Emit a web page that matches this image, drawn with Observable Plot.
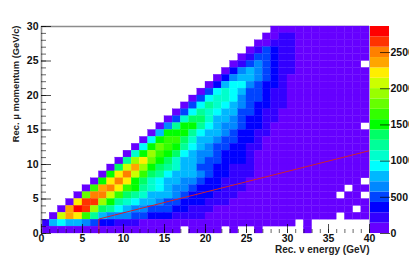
<!DOCTYPE html>
<html>
<head>
<meta charset="utf-8">
<script src="https://cdn.jsdelivr.net/npm/d3@7"></script>
<script src="https://cdn.jsdelivr.net/npm/@observablehq/plot@0.6"></script>
<style>
html,body{margin:0;padding:0;background:#fff;overflow:hidden}
#chart{position:relative;width:409px;height:259px;overflow:hidden}
#chart svg{position:absolute;left:0;top:0;display:block}
</style>
</head>
<body>
<div id="chart"></div>
<script>
const _ = null;
// Colour level (0-19) of every 1 GeV x 1 GeV/c bin, top row (29-30) first; null = empty bin
const levelRows = [
[_,_,_,_,_,_,_,_,_,_,_,_,_,_,_,_,_,_,_,_,_,_,_,_,_,_,_,_,0,0,0,0,0,0,0,0,0,0,0,0],
[_,_,_,_,_,_,_,_,_,_,_,_,_,_,_,_,_,_,_,_,_,_,_,_,_,_,_,0,0,1,1,0,0,0,0,0,0,0,0,0],
[_,_,_,_,_,_,_,_,_,_,_,_,_,_,_,_,_,_,_,_,_,_,_,_,_,_,0,0,1,1,1,0,0,0,0,0,0,0,0,0],
[_,_,_,_,_,_,_,_,_,_,_,_,_,_,_,_,_,_,_,_,_,_,_,_,_,0,1,3,2,1,1,0,0,0,0,0,0,0,0,0],
[_,_,_,_,_,_,_,_,_,_,_,_,_,_,_,_,_,_,_,_,_,_,_,_,0,1,3,3,2,1,1,0,0,0,0,0,0,0,0,0],
[_,_,_,_,_,_,_,_,_,_,_,_,_,_,_,_,_,_,_,_,_,_,_,0,1,3,4,3,2,1,1,0,0,0,0,0,0,0,0,_],
[_,_,_,_,_,_,_,_,_,_,_,_,_,_,_,_,_,_,_,_,_,_,0,2,4,5,4,3,2,1,1,0,0,0,0,0,0,0,0,0],
[_,_,_,_,_,_,_,_,_,_,_,_,_,_,_,_,_,_,_,_,_,0,2,4,5,5,4,3,2,1,0,0,0,0,0,0,0,0,0,0],
[_,_,_,_,_,_,_,_,_,_,_,_,_,_,_,_,_,_,_,_,0,2,5,6,6,4,3,2,2,1,0,0,0,0,0,0,0,0,0,0],
[_,_,_,_,_,_,_,_,_,_,_,_,_,_,_,_,_,_,_,0,3,6,7,6,5,3,3,2,1,1,0,0,0,0,0,0,0,0,0,0],
[_,_,_,_,_,_,_,_,_,_,_,_,_,_,_,_,_,_,0,3,6,7,7,6,4,3,3,2,1,1,0,0,0,0,0,0,0,0,0,0],
[_,_,_,_,_,_,_,_,_,_,_,_,_,_,_,_,_,0,3,6,8,7,6,5,4,3,2,2,1,1,0,0,0,0,0,0,0,0,0,0],
[_,_,_,_,_,_,_,_,_,_,_,_,_,_,_,_,0,3,6,8,7,6,5,5,3,3,2,1,1,0,0,0,0,0,0,0,0,0,0,0],
[_,_,_,_,_,_,_,_,_,_,_,_,_,_,_,0,3,7,9,9,7,5,5,4,3,2,2,1,1,0,0,0,0,0,0,0,0,0,0,0],
[_,_,_,_,_,_,_,_,_,_,_,_,_,_,0,4,8,10,10,8,6,5,4,4,3,2,2,1,0,0,0,0,0,0,0,0,0,0,0,_],
[_,_,_,_,_,_,_,_,_,_,_,_,_,0,5,10,10,10,8,6,5,5,4,3,2,2,1,1,0,0,0,0,0,0,0,0,0,0,0,0],
[_,_,_,_,_,_,_,_,_,_,_,_,0,6,10,11,11,9,7,5,5,4,3,3,2,2,1,0,0,0,0,0,0,0,0,0,0,0,0,0],
[_,_,_,_,_,_,_,_,_,_,_,0,6,10,12,11,10,8,6,5,4,3,3,2,2,1,1,0,0,0,0,0,0,0,0,0,0,0,0,0],
[_,_,_,_,_,_,_,_,_,_,0,7,10,13,11,10,9,6,5,4,4,3,2,2,2,1,0,0,0,0,0,0,0,0,0,0,0,0,0,0],
[_,_,_,_,_,_,_,_,_,0,8,13,15,12,10,9,7,5,5,4,3,3,2,2,2,1,0,0,0,0,0,0,0,0,0,0,0,0,0,0],
[_,_,_,_,_,_,_,_,0,9,14,16,13,10,9,8,7,5,5,3,3,2,2,1,1,1,0,0,0,0,0,0,0,0,0,0,0,0,0,0],
[_,_,_,_,_,_,_,0,10,15,17,14,11,9,8,6,5,5,5,4,3,2,2,1,1,1,0,0,0,0,0,0,0,0,0,0,0,0,0,0],
[_,_,_,_,_,_,0,10,15,17,15,10,9,7,6,5,5,4,4,3,2,2,1,1,1,0,0,0,0,0,0,0,0,0,0,0,0,0,0,_],
[_,_,_,_,_,0,11,16,17,15,11,10,8,7,6,5,4,4,3,2,2,2,1,1,1,0,0,0,0,0,0,0,0,0,0,0,0,_,0,0],
[_,_,_,_,0,12,17,17,14,11,9,8,7,5,5,5,4,3,2,2,2,1,1,1,0,0,0,0,0,0,0,0,0,0,0,0,_,0,0,_],
[_,_,_,0,15,18,18,13,10,8,7,6,5,5,4,3,3,2,2,2,1,1,1,0,0,0,0,0,0,0,0,0,0,0,0,0,0,0,0,0],
[_,_,0,16,19,18,13,9,8,6,5,4,4,3,3,3,2,2,1,1,1,0,0,0,0,0,0,0,0,0,0,0,0,0,0,0,0,0,_,0],
[_,0,14,16,15,11,8,5,4,4,4,3,3,2,2,2,1,1,1,1,0,0,0,0,0,0,0,0,0,0,0,0,0,0,0,0,_,0,0,0],
[1,5,6,5,5,4,3,2,2,1,1,1,0,0,0,0,0,0,0,0,0,0,0,0,0,0,0,0,0,0,0,_,0,_,_,_,_,_,_,_],
[0,0,0,0,0,0,0,0,0,0,0,0,0,0,0,0,0,_,0,0,0,0,_,0,_,_,0,_,_,_,_,_,0,_,_,_,_,_,_,_]
];
const levelWidth = 143;
const zMax = 2860;
const palette = ["#6600ff","#3300ff","#0000ff","#0044ff","#0088ff","#00b8ff","#00ffff","#00ffcc","#00ff99","#00ff66",
                 "#00ff00","#33ff00","#66ff00","#99ff00","#ccff00","#ffee00","#ffa500","#ff8000","#ff3300","#ff0000"];
const thresholds = d3.range(1, 20).map(i => i * levelWidth);
const xMajor = [0,5,10,15,20,25,30,35,40];
const xMinor = d3.range(0, 41);
const yMajor = [0,5,10,15,20,25,30];
const yMinor = d3.range(0, 31);
const zTicks = [0,500,1000,1500,2000,2500];
const cutEnergy = [7,7,40];
const cutMomentum = [0,2.1,12];

const bins = levelRows.flatMap((row, r) => row.map((lv, c) => lv === null ? null :
  {x1: c, x2: c + 1, y1: 29 - r, y2: 30 - r, z: (lv + 0.5) * levelWidth})).filter(Boolean);
const colorOpt = {type: "threshold", domain: thresholds, range: palette};
const style = {fontFamily: "'Liberation Sans', Helvetica, Arial, sans-serif", fontSize: "10.5px", background: "transparent", color: "#111"};

const main = Plot.plot({
  width: 409, height: 259,
  marginLeft: 41, marginRight: 40, marginTop: 26, marginBottom: 26,
  style,
  x: {domain: [0, 40], label: null},
  y: {domain: [0, 30], label: null},
  color: colorOpt,
  marks: [
    Plot.ruleY([30], {stroke: "#8c8c8c", strokeWidth: 1.6}),
    Plot.rect(bins, {x1: "x1", x2: "x2", y1: "y1", y2: "y2", fill: "z", stroke: "z", strokeWidth: 0.3}),
    Plot.line(cutEnergy.map((x, i) => ({x, y: cutMomentum[i]})), {x: "x", y: "y", stroke: "#d0202e", strokeWidth: 1}),
    Plot.ruleX([40], {stroke: "#a99fd0", strokeWidth: 1}),
    Plot.ruleX([0], {stroke: "#8c8c8c", strokeWidth: 1.6}),
    Plot.axisX({ticks: xMinor, tickSize: -4, fill: "none", stroke: "#000", strokeWidth: 0.6, label: null}),
    Plot.axisX({ticks: xMajor, tickSize: -9, tickPadding: 10, stroke: "#000", strokeWidth: 0.7, fontWeight: "bold", label: null}),
    Plot.axisY({ticks: yMinor, tickSize: -5, fill: "none", stroke: "#000", strokeWidth: 0.6, label: null}),
    Plot.axisY({ticks: yMajor, tickSize: -10, tickPadding: 13, stroke: "#000", strokeWidth: 0.7, fontWeight: "bold", label: null}),
    Plot.text(["Rec. \u03bd energy (GeV)"], {frameAnchor: "bottom-right", textAnchor: "end", dy: 19, fontSize: 10, fontWeight: "bold", fill: "#222"}),
    Plot.text(["Rec. \u03bc momentum (GeV/c)"], {frameAnchor: "top-left", rotate: -90, textAnchor: "end", dx: -29, dy: -1, fontSize: 9.4, fontWeight: "bold", fill: "#222"})
  ]
});

const bar = Plot.plot({
  width: 409, height: 259,
  marginLeft: 370, marginRight: 20, marginTop: 26, marginBottom: 26,
  style,
  x: {domain: [0, 1], axis: null},
  y: {domain: [0, zMax], label: null},
  color: colorOpt,
  marks: [
    Plot.rect(palette.map((c, i) => ({y1: i * levelWidth, y2: (i + 1) * levelWidth, z: (i + 0.5) * levelWidth})),
      {x1: 0, x2: 1, y1: "y1", y2: "y2", fill: "z"}),
    Plot.axisY({anchor: "right", ticks: zTicks, tickSize: -10, tickPadding: 11, stroke: "#000", strokeWidth: 0.7, fontWeight: "bold", label: null, tickFormat: d => String(d)})
  ]
});

const host = document.getElementById("chart");
host.append(main, bar);
</script>
</body>
</html>
